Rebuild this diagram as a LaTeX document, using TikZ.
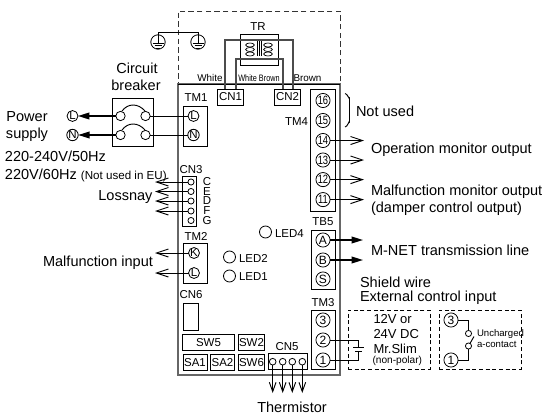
\documentclass[tikz,border=0pt]{standalone}
\usepackage{fontspec}
\setmainfont{Liberation Sans}
\newfontfamily\narrowfont[FakeStretch=0.78]{Liberation Sans}
\usetikzlibrary{arrows.meta,shapes.geometric}
\begin{document}
\begin{tikzpicture}[
    x=0.75pt, y=-0.75pt,
    every node/.style={align=center, inner sep=0pt, outer sep=0pt},
    bigtext/.style={font=\fontsize{10.9}{12}\selectfont},
    boxtext/.style={font=\fontsize{9.75}{11}\selectfont},
    midtext/.style={font=\fontsize{8.6}{10}\selectfont},
    smalltext/.style={font=\fontsize{7.4}{9}\selectfont},
    boxed/.style={draw, rectangle, line width=0.6pt, font=\fontsize{8.6}{10}\selectfont},
    terminal/.style={draw, circle, line width=0.6pt, minimum size=8.2pt, font=\fontsize{8.6}{8}\selectfont},
    bigterminal/.style={draw, circle, line width=0.6pt, minimum size=10.6pt, font=\fontsize{9}{8}\selectfont},
    numterminal/.style={bigterminal, font=\narrowfont\fontsize{9}{8}\selectfont},
    pinhole/.style={draw, circle, line width=0.6pt, minimum size=4.6pt},
    ledlamp/.style={draw, circle, line width=0.6pt, minimum size=9pt},
    coil/.style={draw, ellipse, minimum width=6.5pt, minimum height=3pt, line width=0.5pt},
    wire/.style={draw, line width=0.7pt},
    greywire/.style={draw, line width=0.8pt, black!70},
    openarrow/.style={draw, line width=0.7pt, -{Straight Barb[length=9pt,width=6pt]}},
    fullarrow/.style={draw, line width=1.1pt, -{Triangle[length=8.5pt,width=5pt]}},
    downarrow/.style={draw, line width=0.7pt, -{Straight Barb[length=7pt,width=5pt]}},
    ]
\useasboundingbox (0,0) rectangle (544,414);
% cover and board
\node[draw, line width=0.6pt, black!80, dash pattern=on 4pt off 2.5pt, minimum width=121.5pt, minimum height=54.75pt] (cover) at (259,47.5) {};
\node[draw, line width=1pt, black!60, minimum width=121.5pt, minimum height=218.25pt] (board) at (259,229.5) {};
\draw[line width=0.7pt] (board.north west) -- (board.north east);
% earth
\node[draw, circle, line width=0.6pt, minimum size=10.8pt] (earthA) at (158,42) {};
\node[draw, circle, line width=0.6pt, minimum size=10.8pt] (earthB) at (198,42) {};
\coordinate (earthAc) at (158,43);
\coordinate (earthBc) at (198,43);
\coordinate (earthTop) at (178,32);
\draw[wire] (earthAc) -- (earthAc |- earthTop) -- (earthBc |- earthTop) -- (earthBc);
\draw[wire] (152.5,43) -- (163.5,43);
\draw[wire] (154.5,45.5) -- (161.5,45.5);
\draw[wire] (156,48) -- (160,48);
\draw[wire] (192.5,43) -- (203.5,43);
\draw[wire] (194.5,45.5) -- (201.5,45.5);
\draw[wire] (196,48) -- (200,48);
% transformer
\node[midtext] (TRlabel) at (258,27) {TR};
\node[draw, line width=0.6pt, minimum width=28.5pt, minimum height=23.25pt] (TR) at (259,49.5) {};
\node[coil] (coilA) at (250,45) {};
\node[coil] (coilB) at (250,49.5) {};
\node[coil] (coilC) at (250,54) {};
\node[coil] (coilD) at (268,45) {};
\node[coil] (coilE) at (268,49.5) {};
\node[coil] (coilF) at (268,54) {};
\draw[line width=0.5pt] (257.5,41) -- (257.5,56);
\draw[line width=0.5pt] (259.5,41) -- (259.5,56);
\draw[line width=0.5pt] (261.5,41) -- (261.5,56);
\node[boxed, minimum width=20pt, minimum height=12pt] (CN1) at (230.5,97) {CN1};
\node[boxed, minimum width=19pt, minimum height=12pt] (CN2) at (287.5,97) {CN2};
\coordinate (wireA) at (225,40);
\coordinate (wireB) at (293,40);
\coordinate (wireC) at (236,59);
\coordinate (wireD) at (283,59);
\draw[greywire] (CN1.north -| wireA) -- (wireA) -- (wireB) -- (CN2.north -| wireB);
\draw[greywire] (CN1.north -| wireC) -- (wireC) -- (wireD) -- (CN2.north -| wireD);
\node[smalltext] (white) at (210,78) {White};
\node[font=\narrowfont\fontsize{7}{8}\selectfont] (whitebrown) at (259,78) {White Brown};
\node[smalltext] (brown) at (307.5,78) {Brown};
% circuit breaker and power supply
\node[bigtext] (circuit) at (137,68) {Circuit};
\node[bigtext] (breaker) at (136,85) {breaker};
\node[draw, line width=0.6pt, minimum width=30.75pt, minimum height=36pt] (CB) at (132.5,122) {};
\node[pinhole, minimum size=7pt] (CBa) at (120.5,116) {};
\node[pinhole, minimum size=7pt] (CBb) at (145.5,116) {};
\node[pinhole, minimum size=7pt] (CBc) at (120.5,135) {};
\node[pinhole, minimum size=7pt] (CBd) at (145.5,135) {};
\draw[wire] (122,111) .. controls (128,103) and (138,103) .. (145,111);
\draw[wire] (122,130) .. controls (128,122) and (138,122) .. (145,130);
\node[terminal] (powerL) at (72.5,116) {L};
\node[terminal] (powerN) at (72.5,135) {N};
\draw[fullarrow] (CBa) -- (powerL);
\draw[fullarrow] (CBc) -- (powerN);
\node[bigtext] (power) at (27,117) {Power};
\node[bigtext] (supply) at (27,135) {supply};
\node[bigtext, anchor=west] (volta) at (5,156) {220-240V/50Hz};
\node[bigtext, anchor=west] (voltb) at (5,175) {220V/60Hz \fontsize{8.7}{10}\selectfont(Not used in EU)};
% TM1
\node[midtext] (TM1label) at (196,98) {TM1};
\node[draw, line width=0.6pt, minimum width=18pt, minimum height=30pt] (TM1) at (195,126) {};
\node[terminal] (TM1L) at (193.5,116) {L};
\node[terminal] (TM1N) at (193.5,135) {N};
\draw[wire] (CBb) -- (TM1L);
\draw[wire] (CBd) -- (TM1N);
% CN3
\node[midtext] (CN3label) at (191,170) {CN3};
\node[draw, line width=0.6pt, minimum width=10pt, minimum height=37pt] (CN3) at (189.5,201.5) {};
\node[pinhole] (CN3c) at (191,182) {};
\node[pinhole] (CN3e) at (191,191.5) {};
\node[pinhole] (CN3d) at (191,201) {};
\node[pinhole] (CN3f) at (191,211) {};
\node[pinhole] (CN3g) at (191,220.5) {};
\node[midtext] (letterC) at (207,182) {C};
\node[midtext] (letterE) at (207,191.5) {E};
\node[midtext] (letterD) at (207,201) {D};
\node[midtext] (letterF) at (207,211) {F};
\node[midtext] (letterG) at (207,220.5) {G};
\coordinate (lossA) at (155,182);
\coordinate (lossB) at (155,191.5);
\coordinate (lossC) at (155,201);
\coordinate (lossD) at (155,211);
\draw[openarrow] (CN3c) -- (lossA);
\draw[openarrow] (CN3e) -- (lossB);
\draw[openarrow] (CN3d) -- (lossC);
\draw[openarrow] (CN3f) -- (lossD);
\node[bigtext, anchor=east] (lossnay) at (152.5,197) {Lossnay};
% TM2
\node[midtext] (TM2label) at (196,236) {TM2};
\node[draw, line width=0.6pt, minimum width=18pt, minimum height=30.5pt] (TM2) at (195,263.5) {};
\node[terminal] (TM2K) at (194,253) {K};
\node[terminal] (TM2L) at (194,273) {L};
\coordinate (malfA) at (155,253);
\coordinate (malfB) at (155,273);
\draw[openarrow] (TM2K) -- (malfA);
\draw[openarrow] (TM2L) -- (malfB);
\node[bigtext] (malfunction) at (98,263) {Malfunction input};
% LEDs
\node[ledlamp] (LED4) at (265.5,232) {};
\node[ledlamp] (LED2) at (229.5,257) {};
\node[ledlamp] (LED1) at (229.5,276) {};
\node[midtext, anchor=west] (LED4label) at (275,233.5) {LED4};
\node[midtext, anchor=west] (LED2label) at (239,258) {LED2};
\node[midtext, anchor=west] (LED1label) at (239,276.5) {LED1};
% switches
\node[midtext] (CN6label) at (191,295) {CN6};
\node[draw, line width=0.6pt, minimum width=11.6pt, minimum height=20.2pt] (CN6) at (190.8,316.5) {};
\node[boxed, minimum width=38.5pt, minimum height=11.5pt] (SW5) at (208.5,342.5) {SW5};
\node[boxed, minimum width=19.5pt, minimum height=11.5pt] (SW2) at (251.5,342.5) {SW2};
\node[boxed, minimum width=18pt, minimum height=11.5pt] (SA1) at (195,362.5) {SA1};
\node[boxed, minimum width=17.5pt, minimum height=11.5pt] (SA2) at (222.5,362.5) {SA2};
\node[boxed, minimum width=19.5pt, minimum height=11.5pt] (SW6) at (251.5,362.5) {SW6};
% CN5
\node[midtext] (CN5label) at (287,346.5) {CN5};
\node[draw, line width=0.6pt, minimum width=28.8pt, minimum height=11.5pt] (CN5) at (288,361.5) {};
\node[pinhole, minimum size=5pt] (CN5a) at (272.7,361.7) {};
\node[pinhole, minimum size=5pt] (CN5b) at (282.7,361.7) {};
\node[pinhole, minimum size=5pt] (CN5c) at (292.3,361.7) {};
\node[pinhole, minimum size=5pt] (CN5d) at (302.3,361.7) {};
\coordinate (thermA) at (272.7,393);
\coordinate (thermB) at (282.7,393);
\coordinate (thermC) at (292.3,393);
\coordinate (thermD) at (302.3,393);
\draw[downarrow] (CN5a) -- (thermA);
\draw[downarrow] (CN5b) -- (thermB);
\draw[downarrow] (CN5c) -- (thermC);
\draw[downarrow] (CN5d) -- (thermD);
\node[bigtext] (thermistor) at (292,407) {Thermistor};
% TM4
\node[midtext, anchor=east] (TM4label) at (308,122) {TM4};
\node[draw, line width=0.6pt, minimum width=18.2pt, minimum height=92pt] (TM4) at (323,150.5) {};
\node[numterminal] (TM4p) at (323,100.5) {16};
\node[numterminal] (TM4o) at (323,120.5) {15};
\node[numterminal] (TM4n) at (323,140.5) {14};
\node[numterminal] (TM4m) at (323,160) {13};
\node[numterminal] (TM4l) at (323,179.6) {12};
\node[numterminal] (TM4k) at (323,199.6) {11};
\coordinate (outA) at (364,140.5);
\coordinate (outB) at (364,160);
\coordinate (outC) at (364,179.6);
\coordinate (outD) at (364,199.6);
\draw[openarrow] (TM4n) -- (outA);
\draw[openarrow] (TM4m) -- (outB);
\draw[openarrow] (TM4l) -- (outC);
\draw[openarrow] (TM4k) -- (outD);
\draw[wire] (345,93.5) to[out=0, in=-90] (349.5,98) -- (349.5,122) to[out=90, in=0] (345,127);
\node[bigtext, anchor=west] (notused) at (356,111) {Not used};
\node[bigtext, anchor=west] (operation) at (371,150) {Operation monitor output};
\node[bigtext, anchor=west] (malfmon) at (371,192) {Malfunction monitor output};
\node[bigtext, anchor=west] (damper) at (371,209) {(damper control output)};
% TB5
\node[midtext] (TB5label) at (323,222) {TB5};
\node[draw, line width=0.6pt, minimum width=18pt, minimum height=44.2pt] (TB5) at (323,259.5) {};
\node[bigterminal] (TB5A) at (323,240) {A};
\node[bigterminal] (TB5B) at (323,260) {B};
\node[bigterminal] (TB5S) at (323,279) {S};
\coordinate (mnetA) at (363,240);
\coordinate (mnetB) at (363,260);
\draw[fullarrow] (TB5A) -- (mnetA);
\draw[fullarrow] (TB5B) -- (mnetB);
\node[bigtext, anchor=west] (mnet) at (371,250) {M-NET transmission line};
\node[bigtext, anchor=west] (shield) at (360,282) {Shield wire};
\node[bigtext, anchor=west] (external) at (360,298) {External control input};
% TM3 and external input
\node[midtext] (TM3label) at (323,303) {TM3};
\node[draw, line width=0.6pt, minimum width=18pt, minimum height=44.2pt] (TM3) at (323,339.5) {};
\node[bigterminal] (TM3c) at (323,320) {3};
\node[bigterminal] (TM3b) at (323,340) {2};
\node[bigterminal] (TM3a) at (323,360) {1};
\node[draw, line width=0.6pt, dash pattern=on 3pt off 2pt, minimum width=61.5pt, minimum height=44.2pt] (inputbox) at (389,339.5) {};
\node[draw, line width=0.6pt, dash pattern=on 3pt off 2pt, minimum width=61.5pt, minimum height=44.2pt] (contactbox) at (480,339.5) {};
\coordinate (battTop) at (358.5,347);
\coordinate (battLow) at (358.5,351);
\draw[wire] (TM3b) -| (battTop);
\draw[wire] (TM3a) -| (battLow);
\draw[wire] (353,347) -- (364,347);
\draw[wire] (355,351) -- (361.5,351);
\node[boxtext, anchor=west] (twelve) at (373.5,319.5) {12V or};
\node[boxtext, anchor=west] (twentyfour) at (373.5,334) {24V DC};
\node[boxtext, anchor=west] (mrslim) at (373.5,349) {Mr.Slim};
\node[font=\fontsize{7.6}{9}\selectfont, anchor=west] (nonpolar) at (372.5,361) {(non-polar)};
\node[bigterminal] (contactC) at (451,320) {3};
\node[bigterminal] (contactA) at (451,360) {1};
\node[pinhole] (switchA) at (468.5,333.5) {};
\node[pinhole] (switchB) at (468.5,346) {};
\coordinate (switchEnd) at (474,336.5);
\draw[wire] (contactC) -| (switchA);
\draw[wire] (contactA) -| (switchB);
\draw[wire] (switchB) -- (switchEnd);
\node[font=\fontsize{7.2}{9}\selectfont, anchor=west] (uncharged) at (477,334) {Uncharged};
\node[font=\fontsize{7.2}{9}\selectfont, anchor=west] (acontact) at (477,344.5) {a-contact};
\end{tikzpicture}
\end{document}
